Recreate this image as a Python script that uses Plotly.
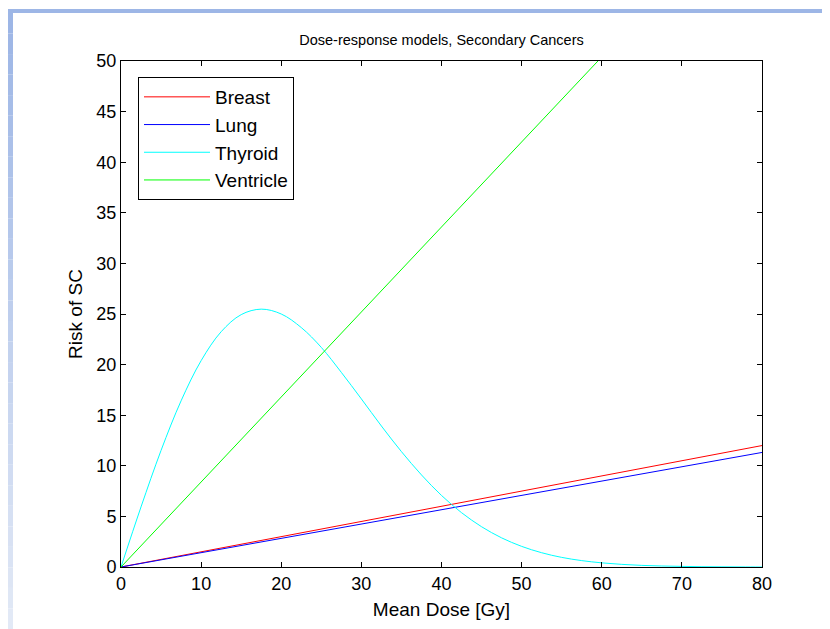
import plotly.graph_objects as go

# Data
dose_lin = [0, 10, 20, 30, 40, 50, 60, 70, 80]
breast = [0, 1.5, 3.0, 4.5, 6.0, 7.5, 9.0, 10.5, 12.0]
lung = [0, 1.42, 2.83, 4.25, 5.66, 7.08, 8.49, 9.91, 11.32]
ventricle = [0, 8.4, 16.8, 25.2, 33.6, 42.0, 50.4, 58.8, 67.2]

dose_thy = [0, 2.5, 5, 7.5, 10, 12.5, 15, 17.5, 20, 22.5, 25, 27.5, 30, 32.5,
            35, 37.5, 40, 42.5, 45, 47.5, 50, 52.5, 55, 57.5, 60, 62.5, 65,
            67.5, 70, 72.5, 75, 77.5, 80]
thyroid = [0, 5.94, 11.52, 16.42, 20.39, 23.25, 24.94, 25.48, 25.0, 23.66,
           21.7, 19.23, 16.61, 13.93, 11.40, 9.10, 7.07, 5.37, 3.98, 2.88,
           2.04, 1.41, 0.95, 0.63, 0.41, 0.26, 0.16, 0.10, 0.06, 0.03, 0.02,
           0.01, 0.0]

x_ticks = [0, 10, 20, 30, 40, 50, 60, 70, 80]
y_ticks = [0, 5, 10, 15, 20, 25, 30, 35, 40, 45, 50]

FONT = "Liberation Sans, Arial, sans-serif"

fig = go.Figure()
fig.add_trace(go.Scatter(x=dose_lin, y=breast, mode="lines", name="Breast",
                         line=dict(color="#ff0000", width=1)))
fig.add_trace(go.Scatter(x=dose_lin, y=lung, mode="lines", name="Lung",
                         line=dict(color="#0000ff", width=1)))
fig.add_trace(go.Scatter(x=dose_thy, y=thyroid, mode="lines", name="Thyroid",
                         line=dict(color="#00ffff", width=1), line_shape="spline"))
fig.add_trace(go.Scatter(x=dose_lin, y=ventricle, mode="lines", name="Ventricle",
                         line=dict(color="#00ff00", width=1)))

# page has an 8px body margin, so figure origin is at screen (8, 8)
OFF = 8
W, H = 830 - OFF, 629 - OFF
ml, mt = 121 - OFF, 61 - OFF
mr = W - (762 - OFF)
mb = H - (567 - OFF)
pw, ph = W - ml - mr, H - mt - mb


def px(sx):
    return (sx - OFF - ml) / pw


def py(sy):
    return (H - mb - (sy - OFF)) / ph


# slide-like frame
shapes = [dict(type="rect", xref="paper", yref="paper", x0=px(8), x1=px(830),
               y0=py(13), y1=py(9), fillcolor="#9db6e6", line_width=0, layer="below")]
nseg = 30
for i in range(nseg):
    y0 = 13 + (629 - 13) * i / nseg
    y1 = 13 + (629 - 13) * (i + 1) / nseg
    t = i / (nseg - 1)
    r = int(0x9d + (0xe2 - 0x9d) * t)
    g = int(0xb6 + (0xe9 - 0xb6) * t)
    b = int(0xe6 + (0xf6 - 0xe6) * t)
    shapes.append(dict(type="rect", xref="paper", yref="paper", x0=px(8), x1=px(13),
                       y0=py(y1), y1=py(y0), fillcolor=f"rgb({r},{g},{b})",
                       line_width=0, layer="below"))

fig.update_layout(
    width=W, height=H,
    margin=dict(l=ml, r=mr, t=mt, b=mb),
    paper_bgcolor="white", plot_bgcolor="white",
    font=dict(family=FONT, size=18, color="black"),
    title=dict(text="Dose-response models, Secondary Cancers", x=0.5, xref="paper",
               y=1 - (40 - OFF) / H, yanchor="middle", font=dict(size=14.5)),
    showlegend=True,
    legend=dict(x=px(138), y=py(77), xanchor="left", yanchor="top",
                bordercolor="black", borderwidth=1, bgcolor="white",
                font=dict(size=19), tracegroupgap=0, itemwidth=66),
    shapes=shapes,
)
fig.update_xaxes(range=[0, 80], tickvals=x_ticks, ticks="inside", ticklen=5,
                 showline=True, linecolor="black", linewidth=1, mirror="ticks",
                 showgrid=False, zeroline=False, tickcolor="black",
                 tickfont=dict(size=18),
                 title=dict(text="Mean Dose [Gy]", standoff=10, font=dict(size=19)))
fig.update_yaxes(range=[0, 50], tickvals=y_ticks, ticks="inside", ticklen=5,
                 showline=True, linecolor="black", linewidth=1, mirror="ticks",
                 showgrid=False, zeroline=False, tickcolor="black",
                 tickfont=dict(size=18),
                 title=dict(text="Risk of SC", standoff=8, font=dict(size=19)))

fig.write_html("out.html")
